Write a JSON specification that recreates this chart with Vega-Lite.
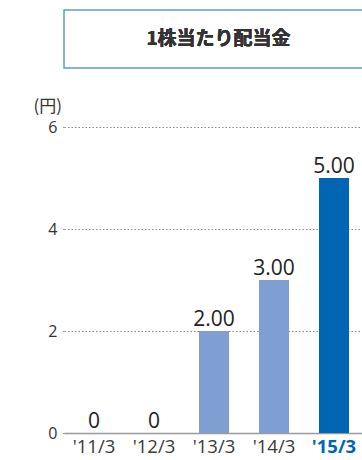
{
  "$schema": "https://vega.github.io/schema/vega-lite/v6.json",
  "padding": {"left": 33, "top": 9, "right": 0, "bottom": 0},
  "background": "white",
  "spacing": 28,
  "config": {"view": {"stroke": null}, "font": "Open Sans"},
  "data": {"values": [
    {"year": "'11/3", "value": 0, "label": "0", "kind": "past"},
    {"year": "'12/3", "value": 0, "label": "0", "kind": "past"},
    {"year": "'13/3", "value": 2, "label": "2.00", "kind": "past"},
    {"year": "'14/3", "value": 3, "label": "3.00", "kind": "past"},
    {"year": "'15/3", "value": 5, "label": "5.00", "kind": "latest"}
  ]},
  "vconcat": [
    {
      "width": 307,
      "height": 58,
      "view": {"stroke": "#5b9bd5", "strokeWidth": 1.5, "fill": "white"},
      "mark": {"type": "text", "text": "1株当たり配当金", "font": "Noto Sans CJK JP", "fontWeight": "bold", "fontSize": 19, "color": "#333", "baseline": "middle", "align": "center", "dx": 1},
      "encoding": {}
    },
    {
      "width": 300,
      "height": 306,
      "encoding": {
        "x": {"field": "year", "type": "nominal", "sort": null,
          "scale": {"paddingInner": 0.5, "paddingOuter": 0.25},
          "axis": {"title": null, "labelAngle": 0, "ticks": false, "domainColor": "#9a9a9a", "domainWidth": 1.5,
            "labelFontSize": 18.5, "labelPadding": 4, "labelFont": "Open Sans",
            "labelColor": {"condition": {"test": "datum.value == \"'15/3\"", "value": "#0066b3"}, "value": "#3a3a3a"},
            "labelFontWeight": {"condition": {"test": "datum.value == \"'15/3\"", "value": "bold"}, "value": "normal"}}}
      },
      "layer": [
        {
          "mark": {"type": "bar"},
          "encoding": {
            "y": {"field": "value", "type": "quantitative",
              "scale": {"domain": [0, 6]},
              "axis": {"values": [0, 2, 4, 6], "title": "(円)", "titleAngle": 0, "titleFont": "Noto Sans CJK JP", "titleFontSize": 17, "titleFontWeight": "normal", "titleColor": "#333", "titleAlign": "left", "titleBaseline": "bottom", "titleX": -31, "titleY": -12,
                "domain": false, "tickSize": 2, "tickColor": "#999", "tickDash": [1.5, 2], "labelPadding": 5, "labelFontSize": 16, "labelColor": "#333",
                "grid": true, "gridColor": "#888", "gridDash": [1.5, 2], "gridWidth": 1}},
            "color": {"field": "kind", "type": "nominal", "legend": null,
              "scale": {"domain": ["past", "latest"], "range": ["#7f9fd3", "#0066b3"]}}
          }
        },
        {
          "mark": {"type": "text", "baseline": "alphabetic", "dy": -5, "fontSize": 21, "color": "#222", "font": "Open Sans"},
          "encoding": {
            "y": {"field": "value", "type": "quantitative"},
            "text": {"field": "label"}
          }
        }
      ]
    }
  ]
}
